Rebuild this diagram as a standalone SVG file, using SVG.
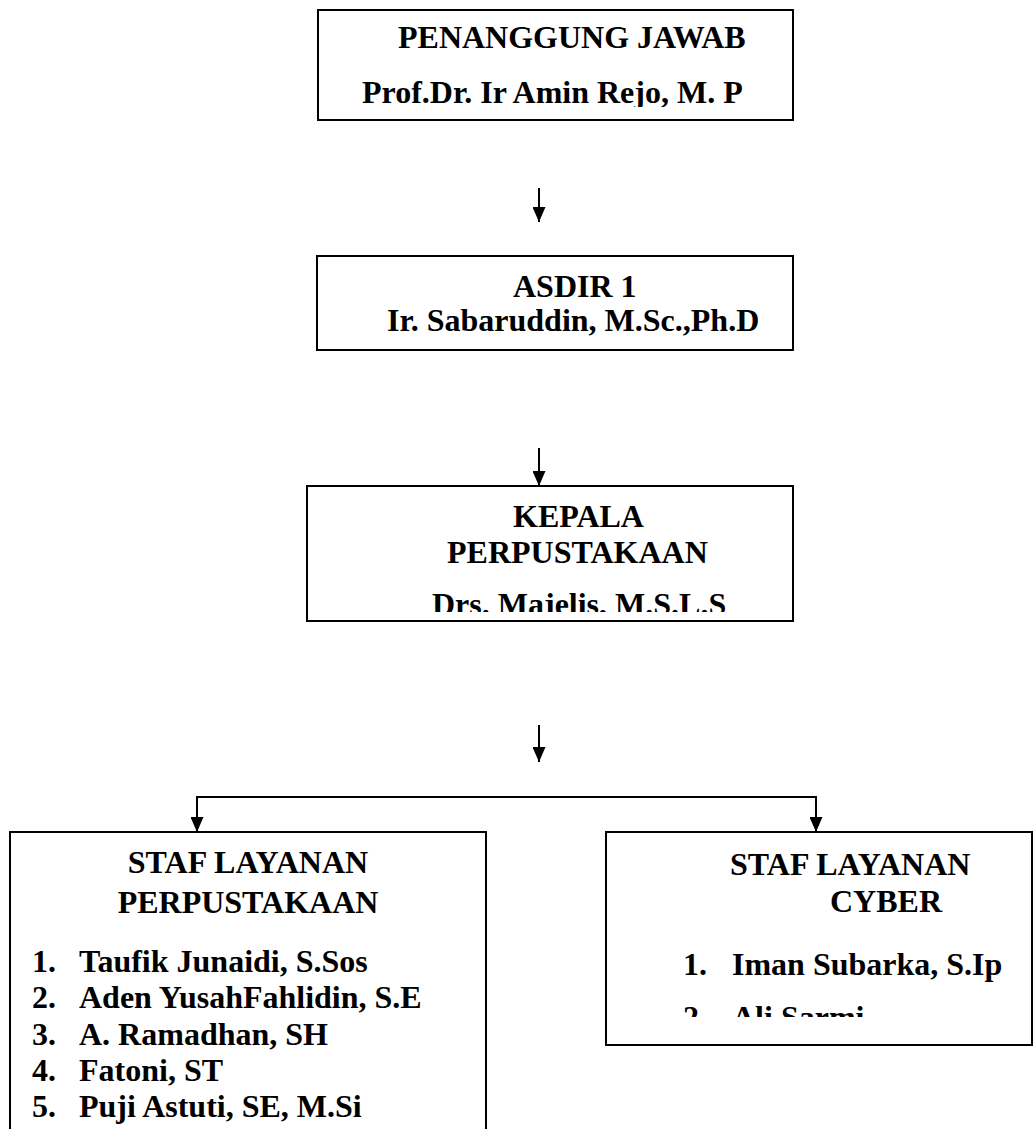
<svg xmlns="http://www.w3.org/2000/svg" width="1035" height="1129" viewBox="0 0 1035 1129">
<style>
.box{fill:#fff;stroke:#000;stroke-width:2}
.t{font-family:"Liberation Serif","Times New Roman",serif;font-weight:bold;font-size:32px;fill:#000}
.c{text-anchor:middle}
.con{stroke:#000;stroke-width:2;fill:none}
</style>
<defs>
<marker id="ah" markerWidth="15" markerHeight="13" refX="15" refY="6.5" orient="auto" markerUnits="userSpaceOnUse"><path d="M0,0 L15,6.5 L0,13 z" fill="#000"/></marker>
<clipPath id="clip1"><rect x="318" y="10" width="475" height="97"/></clipPath>
<clipPath id="clip3"><rect x="307" y="486" width="486" height="126"/></clipPath>
<clipPath id="clip5"><rect x="606" y="832" width="427" height="185"/></clipPath>
</defs>
<g id="connectors">
<line class="con" x1="539" y1="188" x2="539" y2="222" marker-end="url(#ah)"/>
<line class="con" x1="539" y1="448" x2="539" y2="486" marker-end="url(#ah)"/>
<line class="con" x1="539" y1="725" x2="539" y2="762" marker-end="url(#ah)"/>
<polyline class="con" points="197,832 197,797 816,797 816,832"/>
<line class="con" x1="197" y1="797" x2="197" y2="832" marker-end="url(#ah)"/>
<line class="con" x1="816" y1="797" x2="816" y2="832" marker-end="url(#ah)"/>
</g>
<g id="node-penanggung-jawab">
<rect class="box" x="318" y="10" width="475" height="110"/>
<g clip-path="url(#clip1)">
<text class="t" x="398" y="48">PENANGGUNG JAWAB</text>
<text class="t" x="362" y="103">Prof.Dr. Ir Amin Rejo, M. P</text>
</g>
</g>
<g id="node-asdir">
<rect class="box" x="317" y="256" width="476" height="94"/>
<text class="t" x="513" y="297">ASDIR 1</text>
<text class="t" x="387" y="331">Ir. Sabaruddin, M.Sc.,Ph.D</text>
</g>
<g id="node-kepala">
<rect class="box" x="307" y="486" width="486" height="135"/>
<g clip-path="url(#clip3)">
<text class="t" x="513" y="527">KEPALA</text>
<text class="t" x="447" y="563">PERPUSTAKAAN</text>
<text class="t" x="432" y="615">Drs. Majelis, M.S.L.S</text>
</g>
</g>
<g id="node-staf-perpustakaan">
<rect class="box" x="10" y="832" width="476" height="320"/>
<text class="t c" x="248" y="873">STAF LAYANAN</text>
<text class="t c" x="248" y="913">PERPUSTAKAAN</text>
<text class="t" x="32" y="972">1.</text><text class="t" x="79" y="972">Taufik Junaidi, S.Sos</text>
<text class="t" x="32" y="1008">2.</text><text class="t" x="79" y="1008">Aden YusahFahlidin, S.E</text>
<text class="t" x="32" y="1045">3.</text><text class="t" x="79" y="1045">A. Ramadhan, SH</text>
<text class="t" x="32" y="1081">4.</text><text class="t" x="79" y="1081">Fatoni, ST</text>
<text class="t" x="32" y="1117">5.</text><text class="t" x="79" y="1117">Puji Astuti, SE, M.Si</text>
</g>
<g id="node-staf-cyber">
<rect class="box" x="606" y="832" width="426" height="213"/>
<g clip-path="url(#clip5)">
<text class="t" x="730" y="875">STAF LAYANAN</text>
<text class="t" x="830" y="912">CYBER</text>
<text class="t" x="683" y="975">1.</text><text class="t" x="732" y="975">Iman Subarka, S.Ip</text>
<text class="t" x="683" y="1028">2.</text><text class="t" x="732" y="1028">Ali Sarmi</text>
</g>
</g>
</svg>
